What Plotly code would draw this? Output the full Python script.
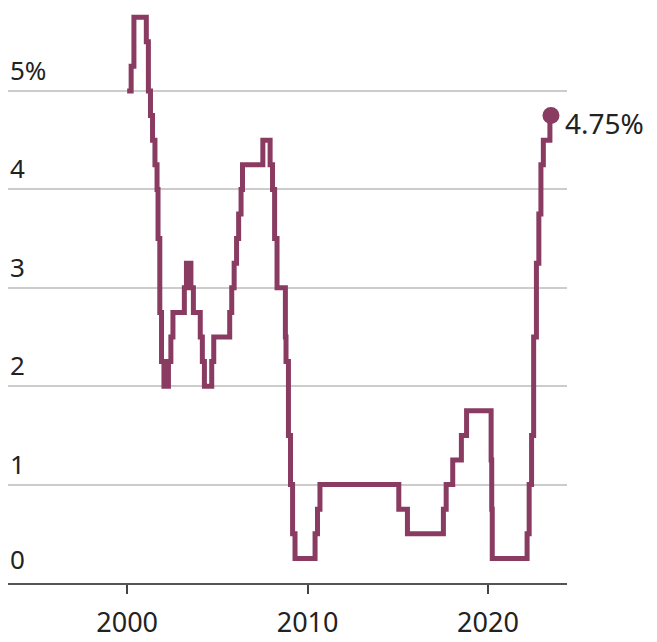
import plotly.graph_objects as go

dates = [
    "2000-01-01", "2000-03-22", "2000-05-17", "2001-01-23", "2001-03-06",
    "2001-04-17", "2001-05-29", "2001-07-17", "2001-08-28", "2001-09-17",
    "2001-10-23", "2001-11-27", "2002-01-15", "2002-04-16", "2002-06-04",
    "2002-07-16", "2003-03-04", "2003-04-15", "2003-07-15", "2003-09-03",
    "2004-01-20", "2004-03-02", "2004-04-13", "2004-09-08", "2004-10-19",
    "2005-09-07", "2005-10-18", "2005-12-06", "2006-01-24", "2006-03-07",
    "2006-04-25", "2006-05-24", "2007-07-10", "2007-12-04", "2008-01-22",
    "2008-03-04", "2008-04-22", "2008-10-08", "2008-10-21", "2008-12-09",
    "2009-01-20", "2009-03-03", "2009-04-21", "2010-06-01", "2010-07-20",
    "2010-09-08", "2015-01-21", "2015-07-15", "2017-07-12", "2017-09-06",
    "2018-01-17", "2018-07-11", "2018-10-24", "2020-03-04", "2020-03-16",
    "2020-03-27", "2022-03-02", "2022-04-13", "2022-06-01", "2022-07-13",
    "2022-09-07", "2022-10-26", "2022-12-07", "2023-01-25", "2023-06-07",
    "2023-06-28",
]
rates = [
    5.00, 5.25, 5.75, 5.50, 5.00,
    4.75, 4.50, 4.25, 4.00, 3.50,
    2.75, 2.25, 2.00, 2.25, 2.50,
    2.75, 3.00, 3.25, 3.00, 2.75,
    2.50, 2.25, 2.00, 2.25, 2.50,
    2.75, 3.00, 3.25, 3.50, 3.75,
    4.00, 4.25, 4.50, 4.25, 4.00,
    3.50, 3.00, 2.50, 2.25, 1.50,
    1.00, 0.50, 0.25, 0.50, 0.75,
    1.00, 0.75, 0.50, 0.75, 1.00,
    1.25, 1.50, 1.75, 1.25, 0.75,
    0.25, 0.50, 1.00, 1.50, 2.50,
    3.25, 3.75, 4.25, 4.50, 4.75,
    4.75,
]

y_ticks = [0, 1, 2, 3, 4, 5]
y_tick_labels = ["0", "1", "2", "3", "4", "5%"]
x_ticks = ["2000-01-01", "2010-01-01", "2020-01-01"]
x_tick_labels = ["2000", "2010", "2020"]

LINE = "#8a3b61"
FONT = "Noto Sans"

fig = go.Figure()
fig.add_trace(go.Scatter(
    x=dates, y=rates, mode="lines", line=dict(color=LINE, width=5, shape="hv"),
    hoverinfo="skip", showlegend=False,
))
fig.add_trace(go.Scatter(
    x=[dates[-1]], y=[rates[-1]], mode="markers",
    marker=dict(color=LINE, size=17), showlegend=False, cliponaxis=False,
    hoverinfo="skip",
))

annotations = []
for v, t in zip(y_ticks, y_tick_labels):
    annotations.append(dict(
        x=0, xref="paper", y=v, yref="y", text=t, showarrow=False,
        xanchor="left", yanchor="bottom", yshift=4 if v == 0 else 1,
        font=dict(family=FONT, size=26, color="#222"),
    ))
annotations.append(dict(
    x=dates[-1], y=rates[-1], xref="x", yref="y", text=f"{rates[-1]:.2f}%",
    showarrow=False, xanchor="left", yanchor="middle", xshift=12, yshift=-7,
    font=dict(family=FONT, size=28, color="#222"),
))

fig.update_layout(
    width=657, height=642,
    margin=dict(l=8, r=90, t=3, b=59, autoexpand=False),
    paper_bgcolor="white", plot_bgcolor="white",
    annotations=annotations,
    hovermode=False,
    xaxis=dict(
        type="date", range=["1993-05-25", "2024-05-18"],
        tickvals=x_ticks, ticktext=x_tick_labels,
        ticks="outside", ticklen=9, tickwidth=1.5, tickcolor="#444",
        ticklabelstandoff=6, automargin=False,
        showline=True, linecolor="#555", linewidth=1.5,
        showgrid=False, zeroline=False,
        tickfont=dict(family=FONT, size=27, color="#222"),
    ),
    yaxis=dict(
        range=[0, 5.894], tickvals=y_ticks, showticklabels=False,
        showgrid=True, gridcolor="#cccccc", gridwidth=1.5, zeroline=False,
        ticks="", automargin=False,
    ),
)

fig.write_html(
    "out.html",
    config={"displayModeBar": False},
    post_script="document.body.style.margin='0';document.body.style.overflow='hidden';",
)
